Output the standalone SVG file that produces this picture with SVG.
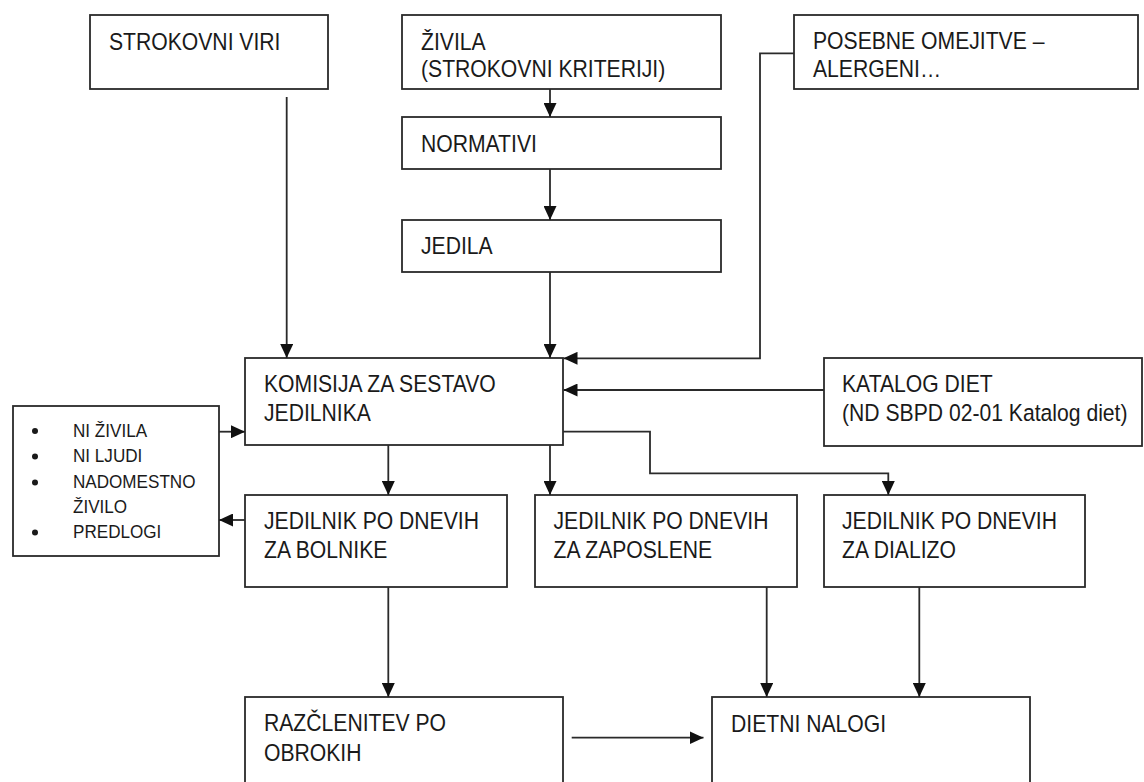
<svg xmlns="http://www.w3.org/2000/svg" width="1144" height="782" viewBox="0 0 1144 782">
<style>
.b{fill:#fff;stroke:#2a2a2a;stroke-width:1.8}
.t{font-family:"Liberation Sans",Arial,sans-serif;font-size:23.5px;fill:#1a1a1a}
.s{font-family:"Liberation Sans",Arial,sans-serif;font-size:19px;fill:#1a1a1a}
.c{fill:none;stroke:#2a2a2a;stroke-width:1.8}
</style>
<defs>
<marker id="a" markerUnits="userSpaceOnUse" markerWidth="14" markerHeight="13" refX="14" refY="6.5" orient="auto">
<path d="M0,0 L14,6.5 L0,13 z" fill="#111"/>
</marker>
</defs>
<rect width="1144" height="782" fill="#fff"/>
<g id="strokovni-viri"><rect class="b" x="90" y="15" width="238" height="74"/>
<text class="t" transform="translate(109,50) scale(0.9,1)">STROKOVNI VIRI</text></g>
<g id="zivila"><rect class="b" x="402" y="15" width="319" height="74"/>
<text class="t" transform="translate(421,50) scale(0.9,1)"><tspan x="0" y="0">ŽIVILA</tspan><tspan x="0" y="27">(STROKOVNI KRITERIJI)</tspan></text></g>
<g id="posebne"><rect class="b" x="794" y="15" width="344" height="74"/>
<text class="t" transform="translate(813,48.5) scale(0.9,1)"><tspan x="0" y="0">POSEBNE OMEJITVE –</tspan><tspan x="0" y="29">ALERGENI…</tspan></text></g>
<g id="normativi"><rect class="b" x="402" y="117" width="319" height="52"/>
<text class="t" transform="translate(421,151.5) scale(0.9,1)">NORMATIVI</text></g>
<g id="jedila"><rect class="b" x="402" y="220" width="319" height="52"/>
<text class="t" transform="translate(421,254) scale(0.9,1)">JEDILA</text></g>
<g id="komisija"><rect class="b" x="245" y="358" width="318" height="87"/>
<text class="t" transform="translate(264,391.5) scale(0.9,1)"><tspan x="0" y="0">KOMISIJA ZA SESTAVO</tspan><tspan x="0" y="30">JEDILNIKA</tspan></text></g>
<g id="katalog"><rect class="b" x="824" y="358" width="318" height="88"/>
<text class="t" transform="translate(842,392) scale(0.9,1)"><tspan x="0" y="0">KATALOG DIET</tspan><tspan x="0" y="29">(ND SBPD 02-01 Katalog diet)</tspan></text></g>
<g id="opombe"><rect class="b" x="13" y="406" width="206" height="150"/>
<g fill="#1a1a1a"><circle cx="35" cy="431" r="3"/><circle cx="35" cy="456.5" r="3"/><circle cx="35" cy="482.5" r="3"/><circle cx="35" cy="532.5" r="3"/></g>
<text class="s" transform="translate(73,437) scale(0.9,1)"><tspan x="0" y="0">NI ŽIVILA</tspan><tspan x="0" y="25.5">NI LJUDI</tspan><tspan x="0" y="51.5">NADOMESTNO</tspan><tspan x="0" y="76">ŽIVILO</tspan><tspan x="0" y="101.5">PREDLOGI</tspan></text></g>
<g id="jedilnik-bolniki"><rect class="b" x="245" y="495" width="262" height="92"/>
<text class="t" transform="translate(264,529) scale(0.9,1)"><tspan x="0" y="0">JEDILNIK PO DNEVIH</tspan><tspan x="0" y="29.5">ZA BOLNIKE</tspan></text></g>
<g id="jedilnik-zaposleni"><rect class="b" x="535" y="495" width="262" height="92"/>
<text class="t" transform="translate(553.5,529) scale(0.9,1)"><tspan x="0" y="0">JEDILNIK PO DNEVIH</tspan><tspan x="0" y="29.5">ZA ZAPOSLENE</tspan></text></g>
<g id="jedilnik-dializa"><rect class="b" x="824" y="495" width="261" height="92"/>
<text class="t" transform="translate(842,529) scale(0.9,1)"><tspan x="0" y="0">JEDILNIK PO DNEVIH</tspan><tspan x="0" y="29.5">ZA DIALIZO</tspan></text></g>
<g id="razclenitev"><rect class="b" x="245" y="697" width="318" height="110"/>
<text class="t" transform="translate(264,731) scale(0.9,1)"><tspan x="0" y="0">RAZČLENITEV PO</tspan><tspan x="0" y="30.5">OBROKIH</tspan></text></g>
<g id="dietni-nalogi"><rect class="b" x="712" y="697" width="318" height="110"/>
<text class="t" transform="translate(731,731.5) scale(0.9,1)">DIETNI NALOGI</text></g>
<g id="connectors" class="c">
<path class="c" d="M286.7,97 V358" marker-end="url(#a)"/>
<path class="c" d="M550,89 V117" marker-end="url(#a)"/>
<path class="c" d="M550,169 V220" marker-end="url(#a)"/>
<path class="c" d="M550,272 V358" marker-end="url(#a)"/>
<path class="c" d="M794,53.3 H760 V358.3 H563.5" marker-end="url(#a)"/>
<path class="c" d="M824,390 H563.5" marker-end="url(#a)"/>
<path class="c" d="M219,431.7 H245" marker-end="url(#a)"/>
<path class="c" d="M245,520 H219" marker-end="url(#a)"/>
<path class="c" d="M388.3,445 V495" marker-end="url(#a)"/>
<path class="c" d="M550,445 V495" marker-end="url(#a)"/>
<path class="c" d="M563,431.7 H650 V473.3 H888.3 V495" marker-end="url(#a)"/>
<path class="c" d="M388.3,587 V697" marker-end="url(#a)"/>
<path class="c" d="M766.7,587 V697" marker-end="url(#a)"/>
<path class="c" d="M919.3,587 V697" marker-end="url(#a)"/>
<path class="c" d="M571.7,737.7 H703.5" marker-end="url(#a)"/>
</g>
</svg>
